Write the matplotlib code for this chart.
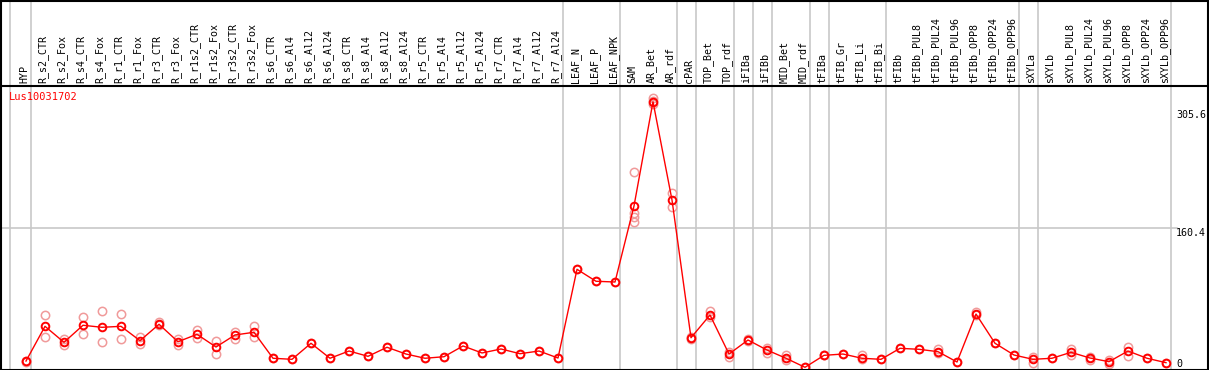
import matplotlib
matplotlib.use("Agg")
import matplotlib.pyplot as plt
from matplotlib.lines import Line2D
from matplotlib.patches import Rectangle

GENE = "Lus10031702"

SAMPLES = [
    "HYP",
    "R_s2_CTR", "R_s2_Fox", "R_s4_CTR", "R_s4_Fox", "R_r1_CTR", "R_r1_Fox",
    "R_r3_CTR", "R_r3_Fox", "R_r1s2_CTR", "R_r1s2_Fox", "R_r3s2_CTR", "R_r3s2_Fox",
    "R_s6_CTR", "R_s6_Al4", "R_s6_Al12", "R_s6_Al24",
    "R_s8_CTR", "R_s8_Al4", "R_s8_Al12", "R_s8_Al24",
    "R_r5_CTR", "R_r5_Al4", "R_r5_Al12", "R_r5_Al24",
    "R_r7_CTR", "R_r7_Al4", "R_r7_Al12", "R_r7_Al24",
    "LEAF_N", "LEAF_P", "LEAF_NPK",
    "SAM", "AR_Bet", "AR_rdf",
    "cPAR",
    "TOP_Bet", "TOP_rdf",
    "iFIBa",
    "iFIBb",
    "MID_Bet", "MID_rdf",
    "tFIBa",
    "tFIB_Gr", "tFIB_Li", "tFIB_Bi",
    "tFIBb", "tFIBb_PUL8", "tFIBb_PUL24", "tFIBb_PUL96", "tFIBb_OPP8", "tFIBb_OPP24", "tFIBb_OPP96",
    "sXYLa",
    "sXYLb", "sXYLb_PUL8", "sXYLb_PUL24", "sXYLb_PUL96", "sXYLb_OPP8", "sXYLb_OPP24", "sXYLb_OPP96",
]

# number of samples in each block separated by grey lines
GROUP_SIZES = [1, 28, 3, 3, 1, 2, 1, 1, 2, 1, 3, 7, 1, 7]

MEANS = [
    -2.5,
    40.1, 20.5, 41.4, 38.9, 40.1, 22.5,
    42.6, 21.2, 30.3, 14.7, 29.5, 32.8,
    0.9, -0.4, 19.3, 0.9,
    9.8, 3.3, 14.4, 6.1,
    0.9, 2.8, 16.0, 7.4,
    12.3, 6.5, 9.8, 1.2,
    110.1, 95.4, 94.5,
    187.8, 315.8, 195.1,
    26.1,
    54.0, 6.1,
    23.3,
    11.0,
    0.9, -10.2,
    4.5,
    6.1, 0.9, -0.4,
    13.1, 11.9, 9.0, -3.7, 55.2, 19.3, 4.9,
    -0.4,
    0.9, 8.2, 1.2, -3.3, 9.8, 0.9, -4.5,
]

REPLICATES = [
    [-2.5, -4.0],
    [54.0, 26.6], [24.2, 17.2], [51.2, 30.7], [58.5, 20.5], [54.9, 24.2], [26.6, 18.0],
    [45.8, 41.7], [24.9, 17.2], [35.6, 25.4], [22.1, 6.1], [33.5, 24.2], [40.5, 27.4],
    [0.9], [-0.4], [19.3], [0.9],
    [9.8], [3.3], [14.4], [6.1],
    [0.9], [2.8], [16.0], [7.4],
    [12.3], [6.5], [9.8], [1.2],
    [110.1], [95.4], [94.5],
    [229.1, 178.8, 174.6, 168.5], [320.0, 316.6, 313.0], [203.4, 186.2],
    [27.4, 24.5],
    [59.3, 51.9], [9.0, 2.8],
    [24.5, 21.7],
    [13.1, 7.7],
    [4.9, -1.2], [-10.2],
    [4.5, 5.5],
    [6.1], [4.9, -0.4], [-0.4],
    [13.1], [11.9], [11.9, 7.7], [-3.7], [58.1, 54.0], [19.3], [4.9],
    [2.1, -4.5],
    [0.9], [11.9, 4.9], [2.8, -1.2], [-1.2, -6.1], [15.1, 3.7], [0.9], [-4.5],
]

Y_TICKS = [305.6, 160.4, 0]

W, H = 1209, 370
X0, DX = 26, 19          # pixel x of first sample, spacing
Y0, SY = 359, 0.8148     # pixel y of value 0, pixels per unit


def px_x(p):
    return (p - X0) / DX


def px_y(p):
    return (Y0 - p) / SY


fig = plt.figure(figsize=(W / 100, H / 100), dpi=100)
ax = fig.add_axes([0, 0, 1, 1])
ax.set_xlim(px_x(0), px_x(W))
ax.set_ylim(px_y(H), px_y(0))
ax.axis("off")

grey = "#c8c8c8"
font = dict(family="DejaVu Sans Mono", fontsize=7.2)

# group separators
seps = [-0.84]
pos = 0
for n in GROUP_SIZES:
    pos += n
    seps.append(pos - 1 + 0.25)
for s in seps:
    ax.axvline(s, color=grey, lw=1.2, zorder=1)

# horizontal reference line
ax.plot([px_x(0), px_x(1177)], [160.4, 160.4], color=grey, lw=1.2, zorder=1)

xs = list(range(len(SAMPLES)))

for i, reps in enumerate(REPLICATES):
    ax.plot([i] * len(reps), reps, linestyle="none", marker="o", ms=6,
            mfc="none", mec="#f09a9a", mew=1.1, zorder=2)

ax.plot(xs, MEANS, color="#ff0000", lw=1.0, zorder=3)
ax.plot(xs, MEANS, linestyle="none", marker="o", ms=5.5, mfc="none",
        mec="#ff0000", mew=1.4, zorder=4)

# sample labels
top_label = px_y(83)
for i, name in enumerate(SAMPLES):
    ax.text(i - 0.1, top_label, name, rotation=90, ha="center", va="bottom",
            color="black", **font)

# value labels on right
for v in Y_TICKS:
    ax.text(px_x(1176), v, f"{v:g}" if v == 0 else f"{v}", ha="left", va="top",
            color="black", **font)

ax.text(px_x(9), px_y(92), GENE, ha="left", va="top", color="#ff0000",
        family="DejaVu Sans Mono", fontsize=7.5)

# frame and header separator
fig.add_artist(Rectangle((0.5 / W, 0.5 / H), (W - 2) / W, (H - 1.5) / H,
                         fill=False, ec="black", lw=1.5, transform=fig.transFigure))
fig.add_artist(Line2D([0, (W - 1) / W], [1 - 85.5 / H] * 2, color="black", lw=1.5,
                      transform=fig.transFigure))

fig.savefig("out.png", dpi=100)
